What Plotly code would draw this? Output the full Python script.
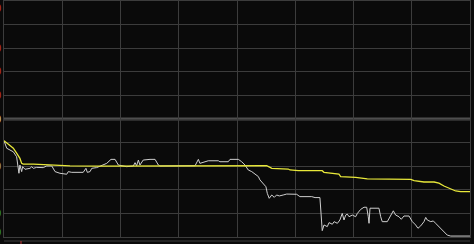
import plotly.graph_objects as go

# trading minutes (0..240) and prices; previous close = 10.00
price_t = [0, 1.4, 4.8, 6.5, 7.7, 8.2, 9.1, 9.6, 10.8, 13.4, 14.3, 15.1, 16.8, 20.2, 22.0, 24.6,
           26.3, 28.8, 32.3, 33.1, 34.9, 40.8, 42.2, 42.9, 44.3, 45.2, 47.7, 51.1, 52.9, 55.1,
           57.2, 58.9, 63.2, 66.6, 67.5, 68.3, 69.2, 70.0, 71.7, 75.2, 77.8, 79.5, 80.3, 98.4,
           99.2, 100.1, 100.9, 101.8, 105.2, 110.4, 111.2, 115.5, 116.4, 120.7, 122.4, 124.1,
           125.8, 127.6, 129.3, 131.0, 131.8, 133.5, 134.9, 135.6, 136.6, 137.9, 139.2, 140.4,
           141.8, 143.8, 145.6, 150.7, 152.4, 158.5, 160.2, 162.7, 163.4, 163.9, 164.8, 166.5,
           167.4, 169.1, 170.0, 171.7, 173.0, 174.2, 175.1, 176.0, 176.8, 177.7, 179.4, 181.1,
           182.0, 183.7, 185.4, 186.8, 187.6, 188.0, 188.5, 193.1, 194.0, 194.8, 197.4, 198.8,
           200.5, 201.7, 203.4, 204.6, 206.0, 208.6, 210.3, 212.0, 213.2, 214.6, 216.3, 217.2,
           218.0, 219.8, 221.1, 222.3, 224.0, 225.7, 227.5, 228.3, 230.1, 240]
price_v = [9.908, 9.876, 9.861, 9.840, 9.770, 9.805, 9.777, 9.798, 9.787, 9.791, 9.798, 9.791,
           9.795, 9.794, 9.801, 9.801, 9.777, 9.770, 9.766, 9.777, 9.774, 9.774, 9.791, 9.774,
           9.777, 9.791, 9.794, 9.805, 9.812, 9.829, 9.829, 9.805, 9.798, 9.801, 9.815, 9.802,
           9.826, 9.805, 9.826, 9.829, 9.829, 9.805, 9.801, 9.802, 9.812, 9.829, 9.812, 9.815,
           9.823, 9.823, 9.819, 9.819, 9.829, 9.829, 9.819, 9.805, 9.784, 9.777, 9.766, 9.756,
           9.742, 9.728, 9.713, 9.685, 9.664, 9.678, 9.668, 9.678, 9.674, 9.678, 9.682, 9.681,
           9.671, 9.671, 9.667, 9.667, 9.572, 9.527, 9.551, 9.544, 9.561, 9.554, 9.565, 9.558,
           9.572, 9.600, 9.572, 9.593, 9.597, 9.586, 9.593, 9.586, 9.600, 9.617, 9.626, 9.626,
           9.586, 9.558, 9.622, 9.622, 9.586, 9.565, 9.565, 9.586, 9.611, 9.593, 9.586, 9.575,
           9.589, 9.589, 9.565, 9.551, 9.537, 9.547, 9.565, 9.583, 9.572, 9.565, 9.568, 9.558,
           9.544, 9.533, 9.516, 9.508, 9.504, 9.504]

avg_t = [0, 2.2, 4.8, 6.5, 8.2, 9.1, 9.9, 15.1, 23.7, 34.0, 49.4, 80.3, 135.3, 137.0, 137.9,
         146.4, 147.3, 151.6, 159.7, 163.9, 164.8, 170.0, 172.5, 173.4, 181.1, 187.1, 209.5,
         211.2, 216.3, 221.5, 224.0, 226.6, 230.1, 232.6, 235.2, 240]
avg_v = [9.908, 9.894, 9.876, 9.855, 9.833, 9.812, 9.809, 9.809, 9.805, 9.801, 9.800, 9.801,
         9.802, 9.795, 9.791, 9.788, 9.784, 9.781, 9.781, 9.781, 9.774, 9.770, 9.766, 9.756,
         9.753, 9.746, 9.744, 9.739, 9.733, 9.733, 9.728, 9.716, 9.703, 9.695, 9.692, 9.692]

pre_close = 10.0
y_min, y_max, y_step = 9.5, 10.5, 0.1
x_min, x_max, x_step = 0, 240, 30

# axis label fragments (cut off at the left edge of the capture)
label_vals = [10.47, 10.3, 10.2, 10.1, 10.0, 9.8, 9.6, 9.52]
label_text = ["0", "0", "0", "0", "0", "0", "0", "0"]
label_cols = ["#c03838", "#c03838", "#c03838", "#c03838", "#d8d8d8", "#a8a8a8", "#30a050", "#30a050"]

W, H = 474, 244
ml, mr, mt, mb = 4, 4, 1, 7

fig = go.Figure()
fig.add_trace(go.Scatter(x=price_t, y=price_v, mode="lines",
                         line=dict(color="#cfcfcf", width=1), hoverinfo="skip"))
fig.add_trace(go.Scatter(x=avg_t, y=avg_v, mode="lines",
                         line=dict(color="#e8e83a", width=1.3), hoverinfo="skip"))

fig.add_shape(type="line", xref="paper", yref="y", x0=0, x1=1, y0=pre_close, y1=pre_close,
              line=dict(color="#4e4e4e", width=3), layer="below")
fig.add_shape(type="line", xref="paper", yref="paper", x0=0, x1=1,
              y0=-4 / (H - mt - mb), y1=-4 / (H - mt - mb),
              line=dict(color="#3c3c3c", width=1))
fig.add_shape(type="line", xref="paper", yref="paper",
              x0=17 / (W - ml - mr), x1=17 / (W - ml - mr),
              y0=-4 / (H - mt - mb), y1=-7 / (H - mt - mb),
              line=dict(color="#c03838", width=1))

for v, t, c in zip(label_vals, label_text, label_cols):
    fig.add_annotation(x=-1.2 / (W - ml - mr), xref="paper", y=v, yref="y", text=t,
                       showarrow=False, xanchor="right", yanchor="middle",
                       font=dict(family="DejaVu Sans", size=10, color=c))

fig.update_layout(
    width=W, height=H, margin=dict(l=ml, r=mr, t=mt, b=mb),
    paper_bgcolor="#0a0a0a", plot_bgcolor="#0a0a0a", showlegend=False,
    xaxis=dict(range=[x_min, x_max], dtick=x_step, tick0=0, showgrid=True,
               gridcolor="#3c3c3c", gridwidth=1, zeroline=False, showticklabels=False,
               showline=True, linecolor="#3c3c3c", mirror=True, ticks=""),
    yaxis=dict(range=[y_min, y_max], dtick=y_step, tick0=y_min, showgrid=True,
               gridcolor="#3c3c3c", gridwidth=1, zeroline=False, showticklabels=False,
               showline=True, linecolor="#3c3c3c", mirror=True, ticks=""),
)

fig.write_html("out.html")
